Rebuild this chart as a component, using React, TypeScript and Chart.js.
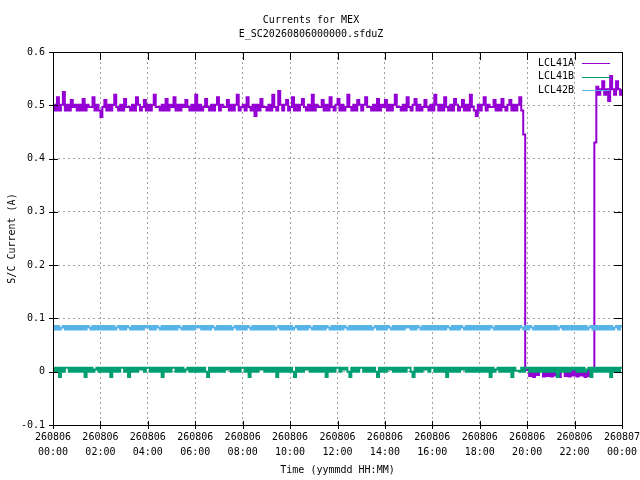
import React, { useEffect, useRef } from 'react';
import { Chart, registerables } from 'chart.js';

Chart.register(...registerables);

// one sample every 5 minutes, 00:00 .. 24:00 (one row per hour)
const sampleMinutes = 5;

const lcl41a = [
  .501, .49, .515, .49, .501, .525, .49, .501, .49, .51, .497, .501,
  .49, .501, .49, .512, .49, .501, .497, .497, .515, .49, .501, .49,
  .478, .497, .51, .49, .501, .49, .501, .52, .497, .49, .501, .49,
  .512, .497, .497, .49, .501, .49, .515, .501, .49, .497, .51, .49,
  .501, .49, .501, .52, .497, .497, .49, .501, .49, .512, .49, .501,
  .497, .515, .49, .501, .49, .501, .497, .51, .497, .49, .501, .49,
  .52, .49, .501, .49, .497, .512, .497, .49, .501, .49, .501, .515,
  .49, .501, .497, .497, .51, .49, .501, .49, .501, .52, .49, .497,
  .501, .49, .515, .497, .49, .501, .48, .501, .49, .512, .497, .497,
  .49, .501, .49, .52, .497, .49, .527, .501, .49, .501, .51, .49,
  .497, .515, .49, .501, .49, .501, .512, .497, .49, .501, .49, .52,
  .49, .501, .497, .497, .51, .49, .501, .49, .515, .497, .49, .501,
  .512, .49, .501, .49, .497, .52, .497, .49, .501, .49, .51, .501,
  .49, .501, .515, .497, .497, .49, .501, .49, .512, .49, .501, .497,
  .51, .49, .501, .49, .501, .52, .497, .497, .49, .501, .49, .515,
  .497, .49, .501, .512, .49, .501, .49, .497, .51, .497, .49, .501,
  .49, .52, .501, .49, .501, .49, .515, .497, .49, .501, .49, .512,
  .501, .49, .497, .51, .49, .501, .49, .52, .497, .49, .48, .501,
  .49, .501, .515, .49, .501, .497, .497, .51, .49, .501, .49, .512,
  .497, .49, .501, .51, .49, .501, .49, .501, .515, .49, .445, .003,
  .003, -.008, .003, -.01, .003, -.006, .003, .003, -.009, .003, -.008, .003,
  -.009, .003, -.007, .003, -.01, .003, .003, -.008, .003, -.009, .003, -.007,
  .003, -.009, .003, -.007, .003, -.01, .003, -.008, .003, .003, .43, .535,
  .52, .53, .545, .52, .53, .508, .555, .53, .52, .545, .53, .52,
  .53,
];

const lcl41b = [
  .0075, 0, .0075, -.01, .0075, 0, .0075, .0075, 0, .0075, 0, .0075,
  0, .0075, 0, .0075, -.01, .0075, 0, .0075, 0, .004, .0075, 0,
  .0075, 0, .0075, 0, .0075, -.01, .0075, 0, .0075, 0, .0075, .0075,
  0, .0075, -.01, .0075, 0, .0075, 0, .0075, .004, .0075, 0, .0075,
  .0075, 0, .0075, 0, .0075, 0, .0075, -.01, .0075, 0, .0075, 0,
  .0075, .0075, 0, .0075, 0, .0075, 0, .004, .0075, 0, .0075, 0,
  .0075, 0, .0075, 0, .0075, 0, -.01, .0075, 0, .0075, 0, .0075,
  0, .0075, 0, .0075, .004, .0075, 0, .0075, 0, .0075, 0, .0075,
  .0075, 0, .0075, -.01, .0075, 0, .0075, 0, .0075, .004, .0075, 0,
  .0075, 0, .0075, 0, .0075, -.01, .0075, 0, .0075, 0, .0075, 0,
  .0075, 0, -.01, .0075, 0, .0075, 0, .0075, .004, .0075, 0, .0075,
  0, .0075, 0, .0075, 0, .0075, -.01, .0075, 0, .0075, 0, .0075,
  .0075, 0, .0075, .004, .0075, 0, -.01, .0075, 0, .0075, 0, .0075,
  .0075, 0, .0075, 0, .0075, 0, .0075, 0, -.01, .0075, 0, .0075,
  0, .0075, .004, .0075, 0, .0075, 0, .0075, 0, .0075, 0, .0075,
  .0075, 0, -.01, .0075, 0, .0075, 0, .0075, .004, .0075, 0, .0075,
  .0075, 0, .0075, 0, .0075, 0, .0075, -.01, .0075, 0, .0075, 0,
  .0075, 0, .0075, .004, .0075, 0, .0075, 0, .0075, 0, .0075, 0,
  .0075, 0, .0075, 0, .0075, -.01, .0075, 0, .004, .0075, 0, .0075,
  0, .0075, 0, .0075, -.01, .0075, .002, .002, 0, .0075, 0, .0075,
  .0075, 0, .0075, 0, .0075, 0, .0075, 0, .0075, 0, .0075, 0,
  .0075, 0, .0075, -.01, .0075, 0, .0075, 0, .0075, 0, .0075, .004,
  .0075, 0, .0075, 0, .0075, 0, .004, .0075, -.01, .0075, 0, .0075,
  0, .0075, 0, .0075, 0, .0075, -.01, .0075, 0, .0075, 0, .0075,
  .0075,
];

const lcl42b = [
  .086, .079, .086, .079, .083, .086, .079, .086, .079, .086, .079, .086,
  .079, .086, .079, .086, .079, .086, .083, .079, .086, .079, .086, .079,
  .086, .079, .086, .079, .086, .079, .086, .079, .083, .086, .079, .086,
  .079, .086, .083, .079, .086, .079, .086, .079, .086, .079, .086, .083,
  .086, .079, .086, .079, .086, .083, .079, .086, .079, .086, .079, .086,
  .079, .086, .079, .086, .083, .079, .086, .079, .086, .079, .086, .079,
  .086, .083, .086, .079, .086, .079, .086, .079, .086, .083, .079, .086,
  .079, .086, .079, .086, .079, .086, .079, .083, .086, .079, .086, .079,
  .086, .079, .086, .083, .079, .086, .079, .086, .079, .086, .079, .086,
  .079, .086, .079, .086, .079, .083, .086, .079, .086, .079, .086, .079,
  .086, .079, .083, .086, .079, .086, .079, .086, .079, .086, .083, .079,
  .086, .079, .086, .079, .086, .079, .086, .083, .079, .086, .079, .086,
  .079, .086, .079, .086, .083, .079, .086, .079, .086, .079, .086, .079,
  .086, .079, .086, .079, .086, .079, .083, .086, .079, .086, .079, .086,
  .079, .086, .083, .079, .086, .079, .086, .079, .086, .079, .086, .083,
  .086, .079, .086, .079, .086, .083, .079, .086, .079, .086, .079, .086,
  .079, .086, .079, .086, .079, .086, .079, .086, .083, .079, .086, .079,
  .086, .079, .086, .083, .079, .086, .079, .086, .079, .086, .079, .086,
  .079, .086, .079, .086, .079, .086, .083, .079, .086, .079, .086, .079,
  .086, .079, .086, .079, .086, .079, .086, .079, .086, .083, .079, .086,
  .079, .086, .083, .079, .086, .079, .086, .079, .086, .079, .086, .079,
  .086, .079, .086, .079, .083, .086, .079, .086, .079, .086, .079, .086,
  .079, .086, .079, .086, .079, .086, .079, .083, .086, .079, .086, .079,
  .086, .079, .086, .079, .086, .079, .086, .079, .083, .086, .079, .086,
  .083,
];

const seriesNames = ['LCL41A', 'LCL41B', 'LCL42B'];
const seriesColors = ['#9400d3', '#009e73', '#56b4e9'];
const seriesWidths = [2, 2, 2];

const tickDates = ['260806', '260806', '260806', '260806', '260806', '260806', '260806',
  '260806', '260806', '260806', '260806', '260806', '260807'];
const tickTimes = ['00:00', '02:00', '04:00', '06:00', '08:00', '10:00', '12:00',
  '14:00', '16:00', '18:00', '20:00', '22:00', '00:00'];

const titleLines = ['Currents for MEX', 'E_SC20260806000000.sfduZ'];

const mono = 'DejaVu Sans Mono, monospace';

const toPoints = (values: number[]) =>
  values.map((v, i) => ({ x: (i * sampleMinutes) / 60, y: v }));

// gnuplot-like frame, tick marks and key inside the top-right corner
const frameAndKey = {
  id: 'frameAndKey',
  afterDraw(chart: any) {
    const { ctx, chartArea: a, scales } = chart;
    ctx.save();
    ctx.strokeStyle = '#000';
    ctx.lineWidth = 1;
    ctx.beginPath();
    scales.y.ticks.forEach((t: any) => {
      const py = Math.round(scales.y.getPixelForValue(t.value)) + 0.5;
      ctx.moveTo(a.left - 4, py); ctx.lineTo(a.left + 5, py);
      ctx.moveTo(a.right - 8, py); ctx.lineTo(a.right, py);
    });
    scales.x.ticks.forEach((t: any) => {
      const px = Math.round(scales.x.getPixelForValue(t.value)) + 0.5;
      ctx.moveTo(px, a.bottom + 4); ctx.lineTo(px, a.bottom - 4);
      ctx.moveTo(px, a.top); ctx.lineTo(px, a.top + 8);
    });
    ctx.stroke();
    ctx.strokeRect(Math.round(a.left) + 0.5, Math.round(a.top) + 0.5,
      Math.round(a.right - a.left), Math.round(a.bottom - a.top));

    ctx.font = `10px ${mono}`;
    ctx.textAlign = 'right';
    ctx.textBaseline = 'middle';
    seriesNames.forEach((name, i) => {
      const y = a.top + 11 + i * 13.5;
      ctx.fillStyle = '#000';
      ctx.fillText(name, a.right - 48, y);
      ctx.strokeStyle = seriesColors[i];
      ctx.beginPath();
      ctx.moveTo(a.right - 40, Math.round(y) + 0.5);
      ctx.lineTo(a.right - 12, Math.round(y) + 0.5);
      ctx.stroke();
    });
    ctx.restore();
  },
};

export default function App() {
  const canvasRef = useRef<HTMLCanvasElement>(null);

  useEffect(() => {
    if (!canvasRef.current) return;
    const font = { family: mono, size: 10 };
    const chart = new Chart(canvasRef.current, {
      type: 'line',
      data: {
        datasets: [lcl41a, lcl41b, lcl42b].map((vals, i) => ({
          label: seriesNames[i],
          data: toPoints(vals),
          borderColor: seriesColors[i],
          backgroundColor: seriesColors[i],
          borderWidth: seriesWidths[i],
          pointRadius: 0,
          stepped: true,
          order: 3 - i,
        })),
      },
      options: {
        animation: false,
        responsive: true,
        maintainAspectRatio: false,
        layout: { padding: { left: 0, right: 18, top: 0, bottom: 0 } },
        plugins: {
          legend: { display: false },
          tooltip: { enabled: false },
          title: {
            display: true,
            text: titleLines,
            color: '#000',
            font: { ...font, weight: 'normal', lineHeight: 1.4 },
            padding: { top: 13, bottom: 11 },
          },
        },
        scales: {
          x: {
            type: 'linear',
            min: 0,
            max: 24,
            grid: { color: '#a0a0a0', drawTicks: false },
            border: { display: false, dash: [2, 3] },
            ticks: {
              stepSize: 2,
              autoSkip: false,
              maxRotation: 0,
              padding: 5,
              color: '#000',
              font: { ...font, lineHeight: 1.5 },
              callback: (v: any) => {
                const i = Math.round(Number(v) / 2);
                return [tickDates[i], tickTimes[i]];
              },
            },
            title: {
              display: true,
              text: 'Time (yymmdd HH:MM)',
              color: '#000',
              font: { ...font, lineHeight: 1.2 },
              padding: { top: 0, bottom: 4 },
            },
            afterFit: (s: any) => {
              s.height = 55;
              s.paddingLeft = 0;
              s.paddingRight = 0;
            },
          },
          y: {
            min: -0.1,
            max: 0.6,
            grid: { color: '#a0a0a0', drawTicks: false },
            border: { display: false, dash: [2, 3] },
            ticks: {
              stepSize: 0.1,
              padding: 8,
              color: '#000',
              font,
              callback: (v: any) => {
                const n = Math.round(Number(v) * 10) / 10;
                return n === 0 ? '0' : n.toFixed(1);
              },
            },
            title: {
              display: true,
              text: 'S/C Current (A)',
              color: '#000',
              font: { ...font, lineHeight: 1.2 },
              padding: { top: 6, bottom: 0 },
            },
            afterFit: (s: any) => { s.width = 53; },
          },
        },
      },
      plugins: [frameAndKey],
    });
    return () => chart.destroy();
  }, []);

  return (
    <div style={{ position: 'fixed', left: 0, top: 0, width: 640, height: 480, background: '#fff' }}>
      <canvas ref={canvasRef} />
    </div>
  );
}
